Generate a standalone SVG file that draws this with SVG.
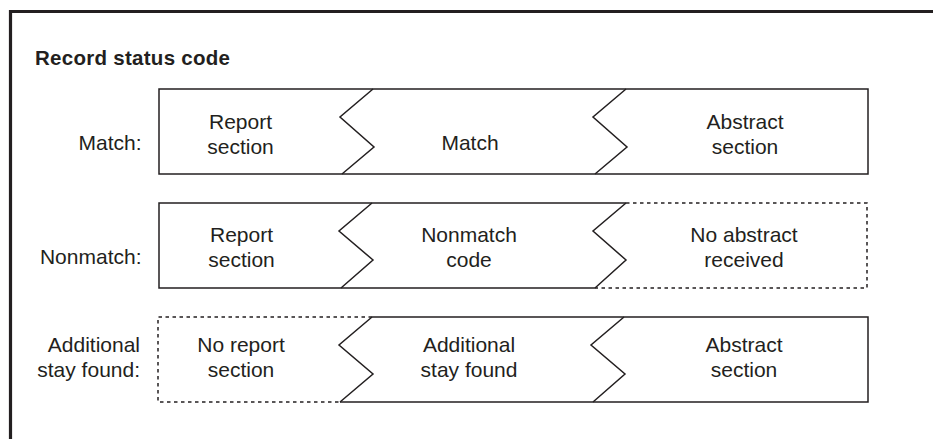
<svg xmlns="http://www.w3.org/2000/svg" width="933" height="439" viewBox="0 0 933 439">
<style>
.t{font-family:"Liberation Sans",Arial,Helvetica,sans-serif;font-size:21px;fill:#231f20;text-anchor:middle}
.l{font-family:"Liberation Sans",Arial,Helvetica,sans-serif;font-size:21px;fill:#231f20;text-anchor:end}
.h{font-family:"Liberation Sans",Arial,Helvetica,sans-serif;font-size:20.5px;font-weight:bold;fill:#231f20}
.s{fill:none;stroke:#231f20;stroke-width:1.5;stroke-linejoin:miter}
.d{fill:none;stroke:#231f20;stroke-width:1.5;stroke-dasharray:3.5 3.5}
</style>
<rect x="0" y="0" width="933" height="439" fill="#ffffff"/>
<path d="M10.5,445 V11.5 H940" fill="none" stroke="#231f20" stroke-width="3.2"/>
<text class="h" x="35" y="65" textLength="195" lengthAdjust="spacing">Record status code</text>

<g id="row-match">
<text class="l" x="141.5" y="150">Match:</text>
<rect class="s" x="159" y="89" width="709" height="85"/>
<polyline class="s" points="373,89 340,117 374,147 342,174"/>
<polyline class="s" points="626,89 593,117 627,147 595,174"/>
<text class="t" x="240.5" y="129">Report</text>
<text class="t" x="240.5" y="153.5">section</text>
<text class="t" x="470" y="150">Match</text>
<text class="t" x="745" y="129">Abstract</text>
<text class="t" x="745" y="153.5">section</text>
</g>

<g id="row-nonmatch">
<text class="l" x="141.5" y="264">Nonmatch:</text>
<path class="s" d="M626,203 H159 V288 H595"/>
<path class="d" d="M626,203 H867 V288 H595"/>
<polyline class="s" points="372,203 339,231 373,260 341,288"/>
<polyline class="s" points="626,203 593,231 626,260 595,288"/>
<text class="t" x="241.5" y="241.5">Report</text>
<text class="t" x="241.5" y="266.5">section</text>
<text class="t" x="469" y="241.5">Nonmatch</text>
<text class="t" x="469" y="266.5">code</text>
<text class="t" x="744" y="241.5">No abstract</text>
<text class="t" x="744" y="266.5">received</text>
</g>

<g id="row-additional">
<text class="l" x="140" y="351.5">Additional</text>
<text class="l" x="140" y="376.5">stay found:</text>
<path class="d" d="M372,317 H158 V402 H340"/>
<path class="s" d="M372,317 H868 V402 H340"/>
<polyline class="s" points="372,317 339,345 373,374 340,402"/>
<polyline class="s" points="624,317 591,345 625,374 593,402"/>
<text class="t" x="241" y="351.5">No report</text>
<text class="t" x="241" y="376.5">section</text>
<text class="t" x="469" y="351.5">Additional</text>
<text class="t" x="469" y="376.5">stay found</text>
<text class="t" x="744" y="351.5">Abstract</text>
<text class="t" x="744" y="376.5">section</text>
</g>
</svg>
